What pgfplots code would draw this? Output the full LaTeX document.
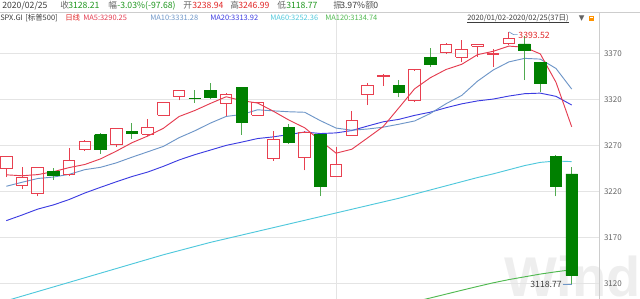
\documentclass[border=0pt]{standalone}
\usepackage{pgfplots}
\pgfplotsset{compat=1.18}
\usepackage{pgfplotstable}
\usepackage{fontspec}
\setmainfont{Liberation Sans}
\newfontfamily\cjk{Noto Sans CJK SC}
\newfontfamily\dejavu{DejaVu Sans}

\definecolor{upred}{RGB}{232,64,80}
\definecolor{dngreen}{RGB}{0,128,0}
\definecolor{wickgreen}{RGB}{80,170,80}
\definecolor{ma5c}{RGB}{228,60,80}
\definecolor{ma10c}{RGB}{110,150,200}
\definecolor{ma20c}{RGB}{60,60,225}
\definecolor{ma60c}{RGB}{80,200,220}
\definecolor{ma120c}{RGB}{80,185,80}
\definecolor{gridc}{RGB}{228,228,228}
\definecolor{framec}{RGB}{205,205,205}
\definecolor{txtdark}{RGB}{60,60,60}
\definecolor{txtgray}{RGB}{100,100,100}
\definecolor{valgreen}{RGB}{30,150,30}
\definecolor{valred}{RGB}{225,40,40}
\definecolor{wmark}{RGB}{238,238,238}

\pgfplotstableread{
k o h l c
0 3244.67 3258.14 3235.53 3257.85
1 3226.36 3246.15 3222.34 3234.85
2 3217.55 3246.84 3214.64 3246.28
3 3241.86 3244.91 3232.43 3237.18
4 3238.59 3267.07 3236.67 3253.05
5 3266.03 3275.58 3263.67 3274.70
6 3281.81 3282.99 3260.86 3265.35
7 3271.13 3288.13 3268.43 3288.13
8 3285.35 3294.25 3277.19 3283.15
9 3282.27 3298.66 3280.69 3289.29
10 3302.97 3317.11 3302.82 3316.81
11 3323.66 3329.88 3318.86 3329.62
12 3321.03 3329.79 3316.61 3320.79
13 3330.02 3337.77 3320.04 3321.75
14 3315.77 3326.88 3301.87 3325.54
15 3333.10 3333.18 3281.53 3295.47
16 3302.97 3317.11 3302.82 3316.81
17 3255.35 3285.78 3253.22 3276.24
18 3289.46 3293.47 3271.89 3273.40
19 3256.45 3285.91 3242.80 3283.66
20 3282.33 3282.33 3214.68 3225.52
21 3235.66 3268.44 3235.66 3248.92
22 3280.61 3306.92 3280.61 3297.59
23 3324.91 3337.58 3313.75 3334.69
24 3344.92 3347.96 3334.39 3345.78
25 3335.54 3341.42 3322.12 3327.71
26 3318.28 3352.26 3317.77 3352.09
27 3365.87 3375.63 3355.61 3357.75
28 3370.50 3381.47 3369.72 3379.45
29 3365.90 3385.09 3360.52 3373.94
30 3378.08 3380.69 3366.15 3380.16
31 3369.04 3375.01 3355.61 3370.29
32 3380.39 3393.52 3378.83 3386.15
33 3380.45 3389.15 3341.02 3373.23
34 3360.50 3360.76 3328.45 3337.75
35 3257.61 3259.81 3214.65 3225.89
36 3238.94 3246.99 3118.77 3128.21
}\tabOHLC

\pgfplotstableread{
k ma5 ma10 ma20 ma60
0 3237.97 3225.50 3188.13 3101
1 3236.96 3229.87 3194.23 3106
2 3238.21 3233.96 3200.67 3111
3 3241.39 3235.56 3205.24 3116
4 3245.84 3238.46 3211.09 3121
5 3249.21 3243.59 3218.20 3126
6 3255.31 3246.14 3224.39 3131
7 3263.68 3250.95 3230.36 3136
8 3272.88 3257.13 3236.08 3141
9 3280.12 3262.98 3240.97 3146
10 3288.55 3268.88 3247.19 3151
11 3301.40 3278.36 3254.11 3155.5
12 3307.93 3285.81 3259.88 3160
13 3315.65 3294.26 3264.91 3164.5
14 3322.90 3301.51 3269.99 3168.5
15 3318.63 3303.59 3273.59 3172.5
16 3316.08 3308.74 3277.44 3176.5
17 3307.17 3307.55 3279.25 3180.5
18 3297.50 3306.57 3281.85 3184.5
19 3289.12 3306.01 3284.50 3188.5
20 3275.13 3296.88 3282.88 3192.5
21 3261.55 3288.81 3283.58 3196.5
22 3265.82 3286.49 3286.15 3200.5
23 3278.08 3287.79 3291.03 3204.5
24 3290.50 3289.81 3295.66 3208.5
25 3310.94 3293.03 3298.31 3212.5
26 3331.57 3296.56 3302.65 3217
27 3343.60 3304.71 3306.13 3221.5
28 3352.56 3315.32 3310.95 3226
29 3358.19 3324.34 3315.18 3230.5
30 3368.68 3339.81 3318.35 3235
31 3372.32 3351.95 3320.38 3239
32 3378.00 3360.80 3323.65 3243.5
33 3376.75 3364.66 3326.22 3248
34 3369.52 3363.85 3326.83 3251.5
35 3338.66 3353.67 3323.35 3253
36 3290.25 3331.28 3313.92 3252.36
}\tabMA

\pgfplotstableread{
k ma120
24 3092
25 3096
26 3100
27 3104
28 3108.2
29 3112.4
30 3116.5
31 3120.5
32 3124
33 3127
34 3130
35 3132.5
36 3134.74
}\tabMAlong

\pgfplotsset{
  upwick/.style={draw=upred, line width=0.75pt, mark=none},
  upbody/.style={draw=upred, line width=0.75pt, mark=none, line join=miter},
  dnwick/.style={draw=wickgreen, line width=0.75pt, mark=none},
  dnbody/.style={draw=dngreen, fill=dngreen, line width=0.5pt, mark=none},
}

\newcommand\hdr{\cjk\fontsize{6.5}{7.5}\selectfont}
\newcommand\hdrb{\cjk\fontsize{5.6}{6.5}\selectfont}

\begin{document}
\begin{tikzpicture}
\useasboundingbox (0,0) rectangle (480pt,224.25pt);
\node[anchor=base west, inner sep=0, text=wmark, font=\fontsize{42}{42}\selectfont\bfseries] at (378pt,1.5pt) {Wind};
\begin{axis}[
  at={(0,0)}, anchor=south west,
  scale only axis, width=449.5pt, height=214.7pt,
  xmin=-0.401, xmax=37.76, ymin=3102.9, ymax=3414.3,
  axis line style={draw=none},
  xtick={21}, xticklabels={},
  ytick={3120,3170,3220,3270,3320,3370},
  yticklabel pos=right,
  major tick length=0pt,
  xmajorgrids, ymajorgrids,
  grid style={draw=gridc, line width=0.5pt},
  /pgf/number format/1000 sep={},
  /pgf/number format/assume math mode=true,
  yticklabel style={font=\cjk\fontsize{6}{7}\selectfont, text=txtgray},
]
\addplot[ma120c, line width=0.7pt, mark=none] table[x=k, y=ma120]{\tabMAlong};
\addplot[ma60c, line width=0.7pt, mark=none] table[x=k, y=ma60]{\tabMA};
\addplot[ma20c, line width=0.7pt, mark=none] table[x=k, y=ma20]{\tabMA};
\addplot[ma10c, line width=0.7pt, mark=none] table[x=k, y=ma10]{\tabMA};
\addplot[ma5c, line width=0.7pt, mark=none] table[x=k, y=ma5]{\tabMA};

\pgfplotsinvokeforeach{0,...,36}{%
  \pgfplotstablegetelem{#1}{o}\of\tabOHLC \let\candO\pgfplotsretval
  \pgfplotstablegetelem{#1}{h}\of\tabOHLC \let\candH\pgfplotsretval
  \pgfplotstablegetelem{#1}{l}\of\tabOHLC \let\candL\pgfplotsretval
  \pgfplotstablegetelem{#1}{c}\of\tabOHLC \let\candC\pgfplotsretval
  \pgfmathsetmacro\candXa{#1-0.37}%
  \pgfmathsetmacro\candXb{#1+0.37}%
  \ifdim\candC pt<\candO pt
    \edef\candTmp{%
      \noexpand\addplot[dnwick, forget plot] coordinates {(#1,\candL) (#1,\candH)};
      \noexpand\addplot[dnbody, forget plot] coordinates {(\candXa,\candO) (\candXb,\candO) (\candXb,\candC) (\candXa,\candC) (\candXa,\candO)};
    }%
  \else
    \edef\candTmp{%
      \noexpand\addplot[upwick, forget plot] coordinates {(#1,\candL) (#1,\candO)};
      \noexpand\addplot[upwick, forget plot] coordinates {(#1,\candC) (#1,\candH)};
      \noexpand\addplot[upbody, forget plot] coordinates {(\candXa,\candO) (\candXb,\candO) (\candXb,\candC) (\candXa,\candC) (\candXa,\candO)};
    }%
  \fi
  \candTmp
}

\draw[ma10c, line width=0.5pt] (axis cs:32,3393.52) -- (axis cs:32.3,3390.5) -- (axis cs:32.55,3390.5);
\node[anchor=west, inner sep=0.5pt, text=valred, font=\hdr] at (axis cs:32.55,3390) {3393.52};
\draw[ma10c, line width=0.5pt] (axis cs:35.42,3118.77) -- (axis cs:36,3118.77);
\node[anchor=east, inner sep=0.5pt, text=txtdark, font=\hdr] at (axis cs:35.42,3118.9) {3118.77};
\end{axis}

\draw[framec, line width=0.6pt] (0,214.7pt) -- (480pt,214.7pt);
\draw[framec, line width=0.6pt] (449.5pt,0) -- (449.5pt,214.7pt);

% header row 1
\begin{scope}[every node/.style={anchor=base west, inner sep=0, font=\hdr}]
\node[text=txtdark] at (1.5pt,217.8pt) {2020/02/25};
\node[text=txtgray] at (45pt,217.8pt) {收};
\node[text=valgreen] at (51pt,217.8pt) {3128.21};
\node[text=txtgray] at (81pt,217.8pt) {幅};
\node[text=valgreen] at (87.75pt,217.8pt) {-3.03\%(-97.68)};
\node[text=txtgray] at (137.25pt,217.8pt) {开};
\node[text=valred] at (144pt,217.8pt) {3238.94};
\node[text=txtgray] at (172.5pt,217.8pt) {高};
\node[text=valred] at (178.5pt,217.8pt) {3246.99};
\node[text=txtgray] at (207.75pt,217.8pt) {低};
\node[text=valgreen] at (214.5pt,217.8pt) {3118.77};
\node[text=txtgray] at (249.75pt,217.8pt) {振};
\node[text=txtdark] at (255pt,217.8pt) {3.97\%};
\node[text=txtgray] at (273.75pt,217.8pt) {额};
\node[text=txtdark] at (279.75pt,217.8pt) {0};
\end{scope}
% header row 2
\begin{scope}[every node/.style={anchor=base west, inner sep=0, font=\hdrb}]
\node[text=txtdark] at (0pt,208.5pt) {SPX.GI};
\node[text=txtdark] at (18.75pt,208.5pt) {[标普500]};
\node[text=valred] at (48.75pt,208.5pt) {日线};
\node[text=ma5c] at (62.25pt,208.5pt) {MA5:3290.25};
\node[text=ma10c] at (112.5pt,208.5pt) {MA10:3331.28};
\node[text=ma20c] at (157.5pt,208.5pt) {MA20:3313.92};
\node[text=ma60c] at (202.5pt,208.5pt) {MA60:3252.36};
\node[text=ma120c] at (243.75pt,208.5pt) {MA120:3134.74};
\node[text=txtdark] (dr) at (350.25pt,208.5pt) {2020/01/02-2020/02/25(37日)};
\node[text=txtgray, font=\dejavu\fontsize{5.5}{6}\selectfont] at (434pt,208.5pt) {▼};
\end{scope}
\draw[txtdark, line width=0.4pt] ([yshift=-1.2pt]dr.base west) -- ([yshift=-1.2pt]dr.base east);
\fill[orange!85!yellow] (441.75pt,208.5pt) rectangle (445.5pt,212.5pt);
\fill[white] (442.8pt,210.8pt) rectangle (444.5pt,211.6pt);
\end{tikzpicture}
\end{document}
